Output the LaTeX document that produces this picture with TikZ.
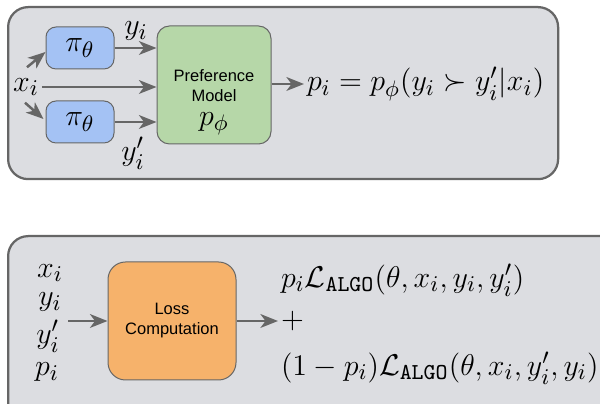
\documentclass[tikz,border=0pt]{standalone}
\usepackage{amsmath}
\usepackage{amssymb}
\usepackage{fontspec}
\setsansfont{Liberation Sans}
\usetikzlibrary{positioning, arrows.meta}

\definecolor{panelgray}{HTML}{DCDDE1}
\definecolor{edgegray}{HTML}{666666}
\definecolor{piblue}{HTML}{A4C2F4}
\definecolor{prefgreen}{HTML}{B6D7A8}
\definecolor{lossorange}{HTML}{F6B26B}

\begin{document}
\begin{tikzpicture}[
    x=0.4pt, y=-0.4pt,
    panel/.style={draw=edgegray, line width=0.9pt, fill=panelgray, rounded corners=8pt, anchor=north west},
    block/.style={draw=edgegray, line width=0.4pt, rounded corners=4pt},
    flow/.style={draw=edgegray, line width=1pt, -{Stealth[length=7pt, width=5.5pt, inset=2pt]}},
    lbl/.style={font=\fontsize{13}{15}\selectfont, inner sep=1pt},
    txt/.style={font=\sffamily\fontsize{6.6}{8}\selectfont, align=center},
]
\useasboundingbox (0,0) rectangle (600,404);
\clip (0,0) rectangle (600,404);

% Panels
\node[panel, minimum width=220pt, minimum height=68.8pt] (top) at (7,6) {};
\node[panel, minimum width=250pt, minimum height=80pt] (bot) at (7,235) {};

% Sampling and preference model
\node[block, fill=piblue, minimum width=27.2pt, minimum height=16.8pt, lbl] (piA) at (80,48) {$\pi_\theta$};
\node[block, fill=piblue, minimum width=27.2pt, minimum height=16.8pt, lbl] (piB) at (80,122) {$\pi_\theta$};
\node[block, fill=prefgreen, minimum width=45.6pt, minimum height=47.2pt, rounded corners=5pt] (pref) at (214,85) {};
\node[txt] (preftxt) at (214,86) {Preference\\Model};
\node[lbl] (pphi) at (214,124) {$p_\phi$};
\node[lbl] (xi) at (26,87) {$x_i$};
\node[lbl] (yi) at (136,31) {$y_i$};
\node[lbl] (yib) at (133,153) {$y_i'$};
\node[lbl, anchor=west] (pout) at (304,84) {$p_i = p_\phi(y_i \succ y_i'|x_i)$};

\draw[flow] ([shift={(1,-8)}]xi.north) -- ([shift={(0,4)}]piA.west);
\draw[flow] ([shift={(-1,4)}]xi.south) -- ([shift={(-2,-3)}]piB.west);
\draw[flow] (xi.east) -- (xi.east -| pref.west);
\draw[flow] (piA.east) -- (piA.east -| pref.west);
\draw[flow] (piB.east) -- (piB.east -| pref.west);
\draw[flow] (pref.east |- pout.west) -- (pout.west);

% Loss computation
\node[block, fill=lossorange, minimum width=51.2pt, minimum height=47.2pt, rounded corners=7pt, txt] (loss) at (172,321) {Loss\\Computation};
\node[lbl] (bx) at (50,273) {$x_i$};
\node[lbl] (by) at (50,302) {$y_i$};
\node[lbl] (byb) at (48,336) {$y_i'$};
\node[lbl] (bp) at (47,372) {$p_i$};
\coordinate (bin) at (68,321);
\node[lbl, anchor=west] (lossA) at (278,280) {$p_i\mathcal{L}_{\texttt{ALGO}}(\theta, x_i, y_i, y_i')$};
\node[lbl, anchor=west] (plus) at (278,321) {$+$};
\node[lbl, anchor=west] (lossB) at (278,368) {$(1-p_i)\mathcal{L}_{\texttt{ALGO}}(\theta, x_i, y_i', y_i)$};

\draw[flow] (bin) -- (loss.west);
\draw[flow] (loss.east) -- (plus.west);

\end{tikzpicture}
\end{document}
